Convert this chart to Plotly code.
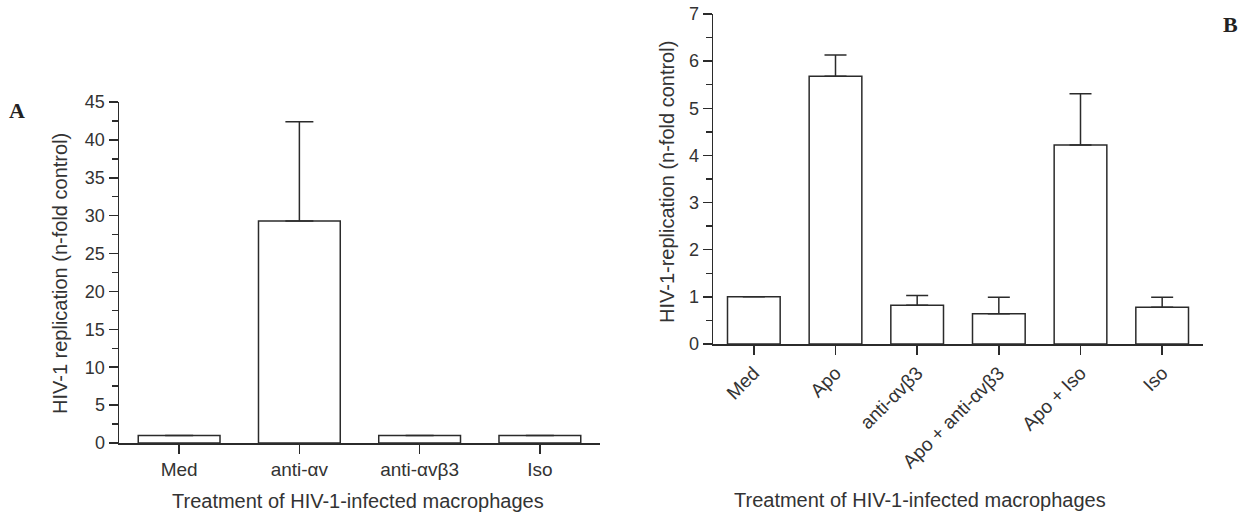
import plotly.graph_objects as go

W, H = 1247, 514
OFF = 0  # page body margin removed via post_script

# Panel A data
cats_a = ["Med", "anti-αv", "anti-αvβ3", "Iso"]
vals_a = [1.0, 29.3, 1.0, 1.0]
err_a = [0.0, 13.1, 0.0, 0.0]
yticks_a = [0, 5, 10, 15, 20, 25, 30, 35, 40, 45]

# Panel B data
cats_b = ["Med", "Apo", "anti-αvβ3", "Apo + anti-αvβ3", "Apo + Iso", "Iso"]
vals_b = [1.0, 5.68, 0.82, 0.64, 4.22, 0.78]
err_b = [0.0, 0.45, 0.21, 0.35, 1.09, 0.21]
yticks_b = [0, 1, 2, 3, 4, 5, 6, 7]

xtitle = "Treatment of HIV-1-infected macrophages"
ytitle_a = "HIV-1 replication (n-fold control)"
ytitle_b = "HIV-1-replication (n-fold control)"

LC = "#2b2b2b"
TC = "#333333"
FONT = "Liberation Sans, Arial, sans-serif"

def px_x(p):
    return (p - OFF) / W

def px_y(p):
    return 1 - (p - OFF) / H

fig = go.Figure()

fig.add_trace(go.Bar(
    x=list(range(len(cats_a))), y=vals_a, width=0.68,
    marker=dict(color="white", line=dict(color=LC, width=1.5)),
    error_y=dict(type="data", array=err_a, arrayminus=[0]*len(err_a), symmetric=False,
                 visible=True, color=LC, thickness=1.5, width=14),
    xaxis="x", yaxis="y", showlegend=False, hoverinfo="skip",
))

fig.add_trace(go.Bar(
    x=list(range(len(cats_b))), y=vals_b, width=0.645,
    marker=dict(color="white", line=dict(color=LC, width=1.5)),
    error_y=dict(type="data", array=err_b, arrayminus=[0]*len(err_b), symmetric=False,
                 visible=True, color=LC, thickness=1.5, width=11),
    xaxis="x2", yaxis="y2", showlegend=False, hoverinfo="skip",
))

common_x = dict(showgrid=False, zeroline=False, showline=True, linecolor=LC, linewidth=1.5,
                ticks="outside", ticklen=9, tickwidth=1.5, tickcolor=LC, automargin=False,
                ticklabeloverflow="allow",
                tickfont=dict(family=FONT, size=19, color=TC), fixedrange=True)
common_y = dict(showgrid=False, zeroline=False, showline=True, linecolor=LC, linewidth=1.5,
                ticks="outside", ticklen=9, tickwidth=1.5, tickcolor=LC, automargin=False,
                ticklabeloverflow="allow",
                tickfont=dict(family=FONT, size=18, color=TC), fixedrange=True)

fig.update_layout(
    width=W, height=H,
    margin=dict(l=0, r=0, t=0, b=0),
    paper_bgcolor="white", plot_bgcolor="white",
    bargap=0.3,
    xaxis=dict(domain=[px_x(119), px_x(600)], range=[-0.5, 3.5],
               tickvals=list(range(len(cats_a))), ticktext=cats_a, anchor="y", **common_x),
    yaxis=dict(domain=[px_y(443), px_y(102)], range=[0, 45], tickvals=yticks_a,
               minor=dict(ticks="outside", ticklen=6, tickwidth=1.5, tickcolor=LC, dtick=2.5, showgrid=False),
               anchor="x", **common_y),
    xaxis2=dict(domain=[px_x(713), px_x(1203)], range=[-0.5, 5.5],
                tickvals=list(range(len(cats_b))), ticktext=cats_b, tickangle=-45, anchor="y2", **common_x),
    yaxis2=dict(domain=[px_y(344), px_y(14)], range=[0, 7], tickvals=yticks_b,
                minor=dict(ticks="outside", ticklen=6, tickwidth=1.5, tickcolor=LC, dtick=0.5, showgrid=False),
                anchor="x2", **common_y),
)

ann = [
    dict(text=xtitle, x=px_x(358), y=px_y(501), font=dict(family=FONT, size=20, color=TC)),
    dict(text=xtitle, x=px_x(920), y=px_y(500), font=dict(family=FONT, size=20, color=TC)),
    dict(text=ytitle_a, x=px_x(60), y=px_y(274), textangle=-90, font=dict(family=FONT, size=20, color=TC)),
    dict(text=ytitle_b, x=px_x(667), y=px_y(182), textangle=-90, font=dict(family=FONT, size=20, color=TC)),
    dict(text="<b>A</b>", x=px_x(17), y=px_y(110), font=dict(family="Liberation Serif, serif", size=22, color="#222")),
    dict(text="<b>B</b>", x=px_x(1230), y=px_y(24), font=dict(family="Liberation Serif, serif", size=22, color="#222")),
]
for a in ann:
    a.update(xref="paper", yref="paper", showarrow=False, xanchor="center", yanchor="middle")
    fig.add_annotation(**a)

fig.write_html("out.html",
               config={"displayModeBar": False, "staticPlot": True},
               post_script="document.body.style.margin='0';document.body.style.overflow='hidden';")
